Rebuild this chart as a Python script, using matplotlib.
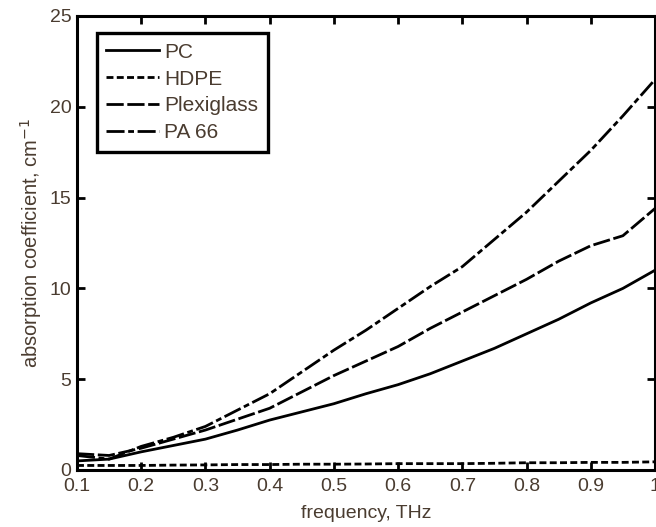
import matplotlib
matplotlib.use("Agg")
import matplotlib.pyplot as plt

# absorption spectra of plastic samples
freq = [0.10, 0.15, 0.20, 0.25, 0.30, 0.35, 0.40, 0.45, 0.50, 0.55,
        0.60, 0.65, 0.70, 0.75, 0.80, 0.85, 0.90, 0.95, 1.00]
pc = [0.5, 0.6, 1.0, 1.35, 1.7, 2.2, 2.75, 3.2, 3.65, 4.2,
      4.7, 5.3, 6.0, 6.7, 7.5, 8.3, 9.2, 10.0, 11.0]
hdpe = [0.25, 0.25, 0.25, 0.27, 0.28, 0.3, 0.3, 0.32, 0.32, 0.33,
        0.35, 0.35, 0.35, 0.37, 0.4, 0.4, 0.42, 0.42, 0.45]
plexiglass = [0.9, 0.8, 1.2, 1.7, 2.2, 2.8, 3.4, 4.3, 5.2, 6.0,
              6.8, 7.8, 8.7, 9.6, 10.5, 11.5, 12.35, 12.9, 14.4]
pa66 = [0.8, 0.6, 1.3, 1.8, 2.4, 3.3, 4.2, 5.4, 6.6, 7.7,
        8.9, 10.1, 11.2, 12.7, 14.2, 15.9, 17.6, 19.5, 21.5]

x_ticks = [0.1, 0.2, 0.3, 0.4, 0.5, 0.6, 0.7, 0.8, 0.9, 1.0]
x_ticklabels = ["0.1", "0.2", "0.3", "0.4", "0.5", "0.6", "0.7", "0.8", "0.9", "1"]
y_ticks = [0, 5, 10, 15, 20, 25]

txt = "#4a3c30"
fs = 14
plt.rcParams["font.family"] = ["Liberation Sans", "DejaVu Sans"]

fig = plt.figure(figsize=(6.56, 5.27), dpi=100)
ax = fig.add_axes([77 / 656, 57 / 527, 578 / 656, 454 / 527])

lw = 2.0
ax.plot(freq, pc, color="k", lw=lw, ls="-", label="PC")
ax.plot(freq, hdpe, color="k", lw=lw, dashes=(2.5, 1.2), label="HDPE")
ax.plot(freq, plexiglass, color="k", lw=lw, dashes=(6.2, 1.3), label="Plexiglass")
ax.plot(freq, pa66, color="k", lw=lw, dashes=(6.5, 1.3, 2.1, 1.3), label="PA 66")

ax.set_xlim(0.1, 1.0)
ax.set_ylim(0, 25)
ax.set_xticks(x_ticks)
ax.set_xticklabels(x_ticklabels)
ax.set_yticks(y_ticks)

for s in ax.spines.values():
    s.set_linewidth(2.2)
ax.tick_params(direction="in", length=6, width=2, top=True, right=True,
               labelsize=fs, labelcolor=txt)
ax.tick_params(axis="x", pad=6)
ax.tick_params(axis="y", pad=4)

ax.set_xlabel("frequency, THz", fontsize=fs, color=txt, labelpad=7)
ax.set_ylabel("absorption coefficient, cm$^{-1}$", fontsize=14.5, color=txt, labelpad=4)

leg = ax.legend(loc="upper left", bbox_to_anchor=(0.034, 0.962), fontsize=15,
                handlelength=2.55, handletextpad=0.25, labelspacing=0.38,
                borderpad=0.45, borderaxespad=0, fancybox=False, framealpha=1,
                edgecolor="k", labelcolor=txt)
leg.get_frame().set_linewidth(2.4)

fig.savefig("out.png", dpi=100)
